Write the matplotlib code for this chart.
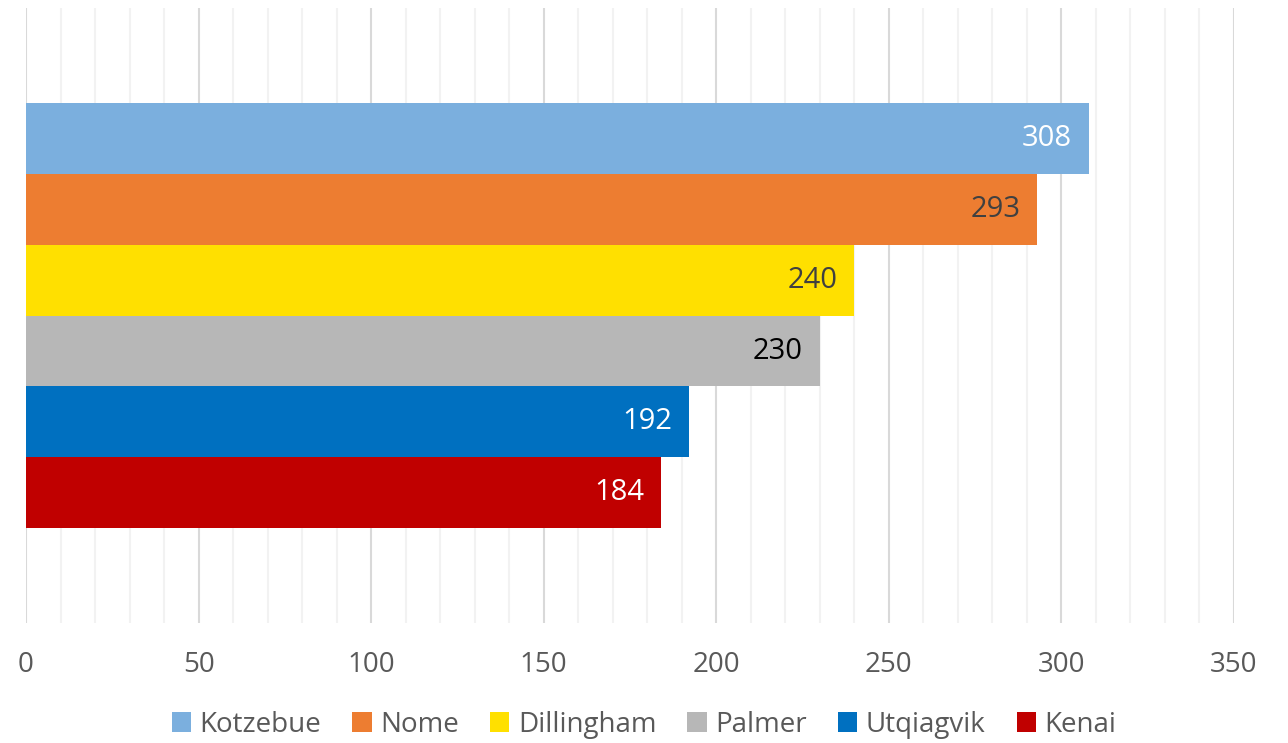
import matplotlib
matplotlib.use("Agg")
from matplotlib import pyplot as plt
from matplotlib.patches import Patch
import numpy as np

cities = ["Kotzebue", "Nome", "Dillingham", "Palmer", "Utqiagvik", "Kenai"]
values = [308, 293, 240, 230, 192, 184]
colors = ["#7BAFDE", "#ED7D31", "#FFE000", "#B7B7B7", "#0070C0", "#C00000"]
label_colors = ["white", "#404040", "#404040", "black", "white", "white"]

plt.rcParams['font.family'] = ['Open Sans', 'DejaVu Sans']

fig = plt.figure(figsize=(12.88, 7.43), dpi=100)
ax = fig.add_axes([0.0202, 0.1615, 0.9378, 0.8275])

pos = np.arange(len(cities))
ax.barh(pos, values, height=1.0, color=colors, zorder=3)

for p, v, c in zip(pos, values, label_colors):
    ax.annotate(str(v), (v, p), xytext=(-12, 0), textcoords="offset points",
                ha="right", va="center", fontsize=21, color=c, zorder=4)

ax.set_xlim(0, 350)
ax.set_ylim(5.5 + 1.34, -0.5 - 1.34)
ax.set_xticks(np.arange(0, 351, 50))
ax.set_xticks(np.arange(0, 351, 10), minor=True)
ax.grid(axis="x", which="major", color="#D9D9D9", linewidth=1.5, zorder=0)
ax.grid(axis="x", which="minor", color="#F2F2F2", linewidth=1.5, zorder=0)
ax.set_yticks([])
ax.tick_params(axis="x", which="both", length=0, labelsize=20, labelcolor="#595959", pad=20)
for s in ax.spines.values():
    s.set_visible(False)

handles = [Patch(facecolor=c, label=n) for n, c in zip(cities, colors)]
fig.legend(handles=handles, loc="lower center", ncol=6, frameon=False,
           fontsize=20, labelcolor="#595959", bbox_to_anchor=(0.5, -0.028),
           handlelength=0.7, handleheight=0.7, handletextpad=0.3, columnspacing=1.12)

fig.savefig("out.png", dpi=100)
